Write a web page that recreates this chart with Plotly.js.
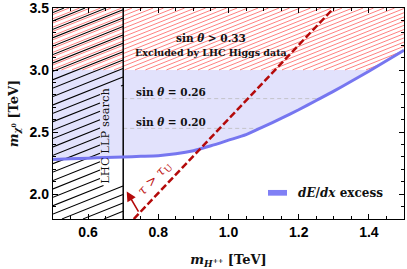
<!DOCTYPE html>
<html><head><meta charset="utf-8">
<script src="https://cdn.plot.ly/plotly-3.0.1.min.js"></script>
<style>html,body{margin:0;padding:0;background:#fff;}#chart{width:407px;height:269px;}</style>
</head><body><div id="chart"></div>
<script>
// ---- data ----
const curveX = [0.5, 0.55, 0.6, 0.65, 0.7, 0.75, 0.8, 0.85, 0.9, 0.95, 1.0, 1.05, 1.1, 1.15, 1.2, 1.25, 1.3, 1.35, 1.4, 1.45, 1.5];
const curveY = [2.28, 2.285, 2.29, 2.295, 2.30, 2.305, 2.31, 2.325, 2.35, 2.39, 2.435, 2.48, 2.545, 2.61, 2.68, 2.755, 2.83, 2.91, 2.99, 3.075, 3.16];
const higgsLimitY = 3.0;        // sin θ > 0.33 excluded above
const llpLimitX = 0.7;          // LHC LLP search excluded left
const sinLevelY = [2.77, 2.53];
const sinLevelLabels = ['0.26', '0.20'];
const tauLineX = [0.73, 1.30];
const tauLineY = [1.8, 3.5];
const xTicks = [0.6, 0.8, 1.0, 1.2, 1.4];
const xTickText = ['0.6', '0.8', '1.0', '1.2', '1.4'];
const yTicks = [2.0, 2.5, 3.0, 3.5];
const yTickText = ['2.0', '2.5', '3.0', '3.5'];
const xRange = [0.5, 1.5];
const yRange = [1.8, 3.5];

// ---- helpers ----
function interp(x) {
  for (let i = 0; i < curveX.length - 1; i++) {
    if (x >= curveX[i] && x <= curveX[i + 1]) {
      const t = (x - curveX[i]) / (curveX[i + 1] - curveX[i]);
      return curveY[i] + t * (curveY[i + 1] - curveY[i]);
    }
  }
  return x < curveX[0] ? curveY[0] : curveY[curveY.length - 1];
}
function curveXAt(y) {
  for (let i = 0; i < curveY.length - 1; i++) {
    if ((y - curveY[i]) * (y - curveY[i + 1]) <= 0) {
      const t = (y - curveY[i]) / (curveY[i + 1] - curveY[i]);
      return curveX[i] + t * (curveX[i + 1] - curveX[i]);
    }
  }
  return curveX[curveX.length - 1];
}

// lavender region: above curve, below Higgs limit
const fillX = [], fillY = [];
for (let i = 0; i < curveX.length; i++) {
  if (curveY[i] <= higgsLimitY) { fillX.push(curveX[i]); fillY.push(curveY[i]); }
  else { const xc = curveXAt(higgsLimitY); fillX.push(xc); fillY.push(higgsLimitY); break; }
}
fillX.push(xRange[0]); fillY.push(higgsLimitY);

// hatch generator (pattern styling, clipped to a region)
const W = 407 - 53 - 3, H = 269 - 8 - 50;
function hatch(inside, slope, spacing, phase) {
  const xs = [], ys = [];
  for (let b = -slope * W + phase; b <= H; b += spacing) {
    let run = null, last = null;
    for (let px = 0; px <= W; px += 0.5) {
      const py = b + slope * px;
      const xd = xRange[0] + px / W * (xRange[1] - xRange[0]);
      const yd = yRange[0] + py / H * (yRange[1] - yRange[0]);
      const ins = py >= 0 && py <= H && inside(xd, yd);
      if (ins) { if (!run) run = [xd, yd]; last = [xd, yd]; }
      else if (run) { xs.push(run[0], last[0], null); ys.push(run[1], last[1], null); run = null; }
    }
    if (run) { xs.push(run[0], last[0], null); ys.push(run[1], last[1], null); }
  }
  return { xs, ys };
}
const redH = hatch((x, y) => y <= yRange[1] && y >= Math.max(higgsLimitY, interp(x)), 0.40, 4.2, 0.5);
const blkH = hatch((x, y) => x <= llpLimitX && !(x > 0.634 && y > 2.07 && y < 2.87), 0.40, 8.4, 2.5);

const traces = [];
traces.push({ x: fillX, y: fillY, type: 'scatter', mode: 'lines', fill: 'toself',
  fillcolor: 'rgb(226,226,252)', line: { width: 0 }, hoverinfo: 'skip', showlegend: false });
traces.push({ x: redH.xs, y: redH.ys, type: 'scatter', mode: 'lines',
  line: { color: 'rgba(255,90,90,0.85)', width: 0.9 }, hoverinfo: 'skip', showlegend: false });
traces.push({ x: blkH.xs, y: blkH.ys, type: 'scatter', mode: 'lines',
  line: { color: '#000', width: 1.1 }, hoverinfo: 'skip', showlegend: false });
sinLevelY.forEach(v => {
  traces.push({ x: [llpLimitX, curveXAt(v)], y: [v, v], type: 'scatter', mode: 'lines',
    line: { color: 'rgb(195,195,200)', width: 1, dash: '4px,3px' }, hoverinfo: 'skip', showlegend: false });
});
traces.push({ x: [llpLimitX, llpLimitX], y: yRange, type: 'scatter', mode: 'lines',
  line: { color: '#000', width: 1.5 }, hoverinfo: 'skip', showlegend: false });
traces.push({ x: curveX, y: curveY, type: 'scatter', mode: 'lines', name: 'dE/dx excess',
  line: { color: 'rgb(118,118,240)', width: 3, shape: 'spline', smoothing: 0.6 }, showlegend: false });
traces.push({ x: tauLineX, y: tauLineY, type: 'scatter', mode: 'lines',
  line: { color: 'rgb(180,10,10)', width: 2.5, dash: '7px,3px' }, hoverinfo: 'skip', showlegend: false });

const serif = 'DejaVu Serif';
const annotations = [
  { x: 0.95, y: 3.257, xref: 'x', yref: 'y', text: '<b>sin <i>θ</i> &gt; 0.33</b>', showarrow: false,
    font: { family: serif, size: 10.5, color: '#111' } },
  { x: 0.95, y: 3.145, xref: 'x', yref: 'y', text: '<b>Excluded by LHC Higgs data</b>', showarrow: false,
    font: { family: serif, size: 9.5, color: '#111' } },
  { x: 0.648, y: 2.47, xref: 'x', yref: 'y', text: 'LHC LLP search', textangle: -90, showarrow: false,
    font: { family: serif, size: 11.5, color: '#111' } },
  { x: 0.79, y: 2.125, xref: 'x', yref: 'y', text: '<i>τ</i> &gt; <i>τ</i><sub>U</sub>', textangle: -46.6, showarrow: false,
    font: { family: serif, size: 13, color: 'rgb(190,20,20)' } },
  { x: 0.71, y: 2.022, ax: 0.746, ay: 1.848, xref: 'x', yref: 'y', axref: 'x', ayref: 'y', text: '',
    showarrow: true, arrowhead: 2, arrowsize: 1.2, arrowwidth: 1.6, arrowcolor: 'rgb(180,10,10)' },
  { x: 1.192, y: 2.011, xref: 'x', yref: 'y', xanchor: 'left', text: '<b><i>dE</i>/<i>dx</i> excess</b>', showarrow: false,
    font: { family: serif, size: 12, color: '#111' } }
];
sinLevelY.forEach((v, i) => {
  annotations.push({ x: 0.731, y: v + 0.055, xref: 'x', yref: 'y', xanchor: 'left',
    text: '<b>sin <i>θ</i> = ' + sinLevelLabels[i] + '</b>', showarrow: false,
    font: { family: serif, size: 10.5, color: '#111' } });
});

const tickFont = { family: 'Liberation Sans', size: 14, color: '#000', weight: 'bold' };
const layout = {
  width: 407, height: 269,
  margin: { l: 53, r: 3, t: 8, b: 50, pad: 0 },
  paper_bgcolor: '#fff', plot_bgcolor: '#fff',
  showlegend: false,
  xaxis: {
    range: xRange, tickmode: 'array', tickvals: xTicks, ticktext: xTickText,
    ticks: 'inside', ticklen: 5, tickwidth: 1, tickcolor: '#000',
    minor: { tickmode: 'linear', dtick: 0.05, tick0: 0.5, ticks: 'inside', ticklen: 3, tickcolor: '#000', showgrid: false },
    showline: true, linecolor: '#000', linewidth: 1.2, mirror: 'allticks', showgrid: false, zeroline: false,
    tickfont: tickFont, ticklabeloverflow: 'allow',
    title: { text: '<b><i>m</i><sub><i>H</i><sup>++</sup></sub> [TeV]</b>', font: { family: serif, size: 13, color: '#111' }, standoff: 22 }
  },
  yaxis: {
    range: yRange, tickmode: 'array', tickvals: yTicks, ticktext: yTickText,
    ticks: 'inside', ticklen: 5, tickwidth: 1, tickcolor: '#000',
    minor: { tickmode: 'linear', dtick: 0.1, tick0: 1.8, ticks: 'inside', ticklen: 3, tickcolor: '#000', showgrid: false },
    showline: true, linecolor: '#000', linewidth: 1.2, mirror: 'allticks', showgrid: false, zeroline: false,
    tickfont: tickFont, ticklabeloverflow: 'allow',
    title: { text: '<b><i>m</i><sub><i>χ</i><sup>0</sup></sub> [TeV]</b>', font: { family: serif, size: 13, color: '#111' }, standoff: 8 }
  },
  shapes: [
    { type: 'rect', xref: 'x', yref: 'y', x0: 1.1125, x1: 1.1667, y0: 1.988, y1: 2.034,
      fillcolor: 'rgb(128,128,245)', line: { width: 0 } }
  ],
  annotations: annotations
};
Plotly.newPlot('chart', traces, layout, { staticPlot: true, displayModeBar: false });
</script>
</body></html>
